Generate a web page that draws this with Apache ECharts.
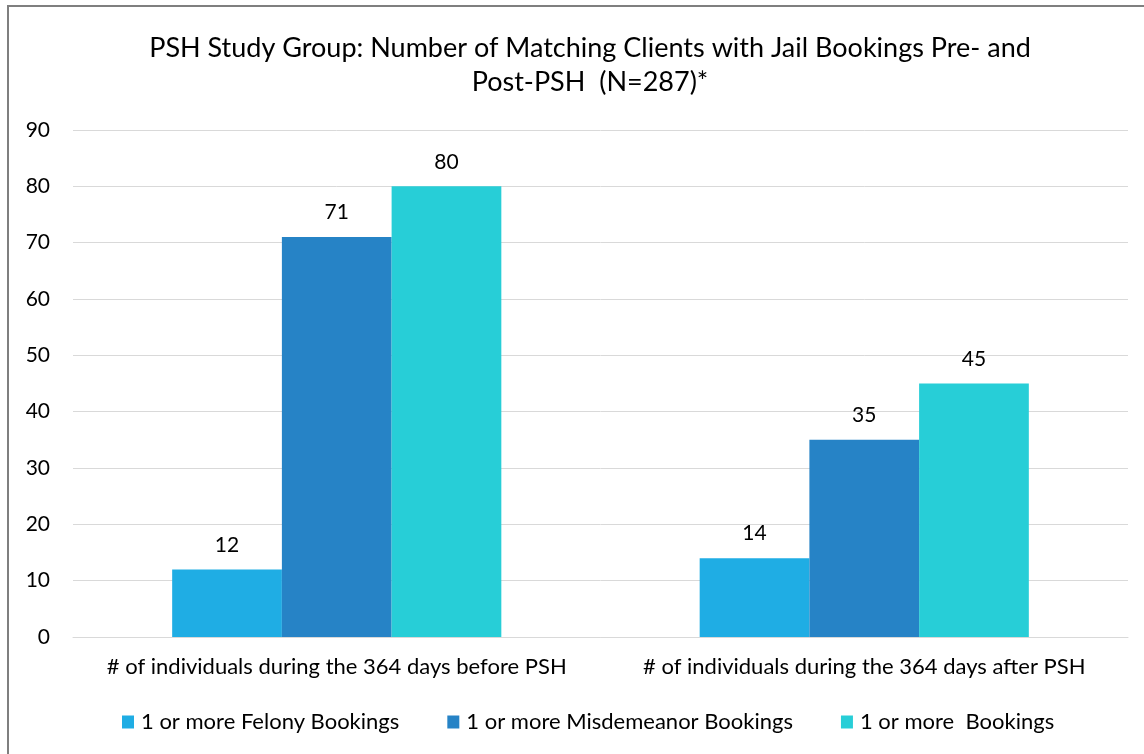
<!DOCTYPE html>
<html>
<head>
<meta charset="utf-8">
<script src="https://cdn.jsdelivr.net/npm/echarts@6/dist/echarts.min.js"></script>
<style>
    html, body { margin: 0; padding: 0; background: #fff; overflow: hidden; }
    .box {
        position: absolute; left: 7px; top: 5px; width: 1160px; height: 780px;
        border: 2px solid #7f7f7f; box-sizing: border-box;
    }
    .chart { position: absolute; left: 0; top: 0; width: 1144px; height: 754px; }
</style>
</head>
<body>
<div class="box"></div>
<div class="chart"></div>
<script>
// 数据
var categories = ["# of individuals during the 364 days before PSH", "# of individuals during the 364 days after PSH"];
var seriesNames = ["1 or more Felony Bookings", "1 or more Misdemeanor Bookings", "1 or more  Bookings"];
var felony = [12, 14];
var misdemeanor = [71, 35];
var anyBooking = [80, 45];
var myColor = ["#1FADE4", "#2683C6", "#27CED7"];

(function () {
    var myChart = echarts.init(document.querySelector(".chart"));
    var font = "Lato, 'Open Sans', sans-serif";
    var values = [felony, misdemeanor, anyBooking];
    var option = {
        color: myColor,
        textStyle: { fontFamily: font },
        title: {
            text: "PSH Study Group: Number of Matching Clients with Jail Bookings Pre- and\nPost-PSH  (N=287)*",
            left: 585,
            textAlign: "center",
            top: 26,
            textStyle: {
                fontFamily: font,
                fontSize: 27,
                fontWeight: "normal",
                color: "#000",
                lineHeight: 34
            }
        },
        legend: {
            top: 706,
            left: 117,
            itemWidth: 12,
            itemHeight: 13,
            itemGap: 48,
            icon: "rect",
            textStyle: { fontFamily: font, fontSize: 22, color: "#000", padding: [0, 0, 0, 2] },
            data: seriesNames
        },
        grid: {
            left: 73,
            right: 16,
            top: 130,
            bottom: 117,
            containLabel: false
        },
        xAxis: {
            type: "category",
            data: categories,
            axisTick: { show: false },
            axisLine: { lineStyle: { color: "#d9d9d9", width: 1 } },
            axisLabel: { color: "#000", fontSize: 22, fontFamily: font, margin: 19, interval: 0 }
        },
        yAxis: {
            type: "value",
            min: 0,
            max: 90,
            interval: 10,
            axisLabel: { color: "#000", fontSize: 21, fontFamily: font, margin: 23 },
            axisLine: { show: false },
            axisTick: { show: false },
            splitLine: { lineStyle: { color: "#d9d9d9", width: 1 } }
        },
        series: seriesNames.map(function (name, i) {
            return {
                name: name,
                type: "bar",
                data: values[i],
                barGap: "0%",
                barCategoryGap: "37.6%",
                label: {
                    show: true,
                    position: "top",
                    distance: 14,
                    color: "#000",
                    fontSize: 21,
                    fontFamily: font
                }
            };
        })
    };
    myChart.setOption(option);
    window.addEventListener("resize", function () {
        myChart.resize();
    });
})();
</script>
</body>
</html>
